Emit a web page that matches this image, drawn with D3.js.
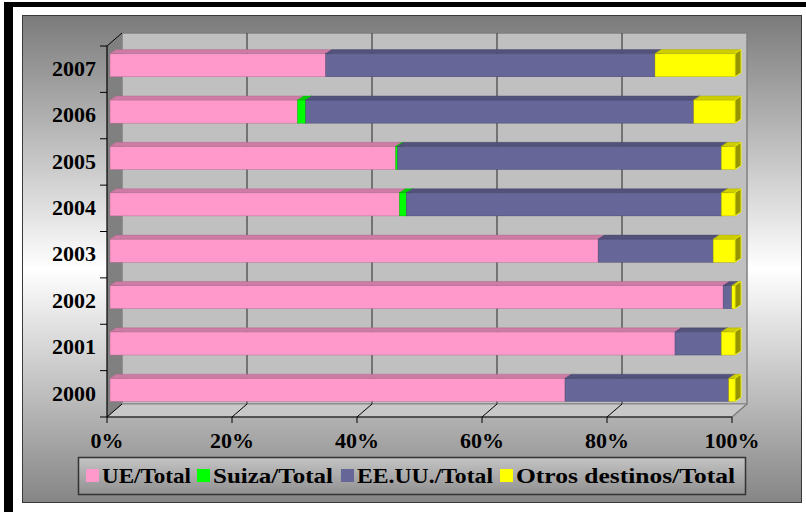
<!DOCTYPE html>
<html><head><meta charset="utf-8">
<script src="https://cdn.jsdelivr.net/npm/d3@7"></script>
<style>body{margin:0;background:#fff}svg{display:block}</style>
</head><body><svg id="c" width="806" height="512"></svg>
<script>
// ---- data ----
const years = ["2000","2001","2002","2003","2004","2005","2006","2007"];
const ueTotal     = [72.8, 90.4, 98.1, 78.1, 46.3, 45.7, 30.0, 34.5];
const suizaTotal  = [0.0,  0.0,  0.0,  0.0,  1.1,  0.3,  1.3,  0.0];
const eeuuTotal   = [26.2, 7.4,  1.4,  18.4, 50.4, 51.8, 62.1, 52.7];
const otrosTotal  = [1.0,  2.2,  0.5,  3.5,  2.2,  2.2,  6.6,  12.8];
const seriesNames = ["UE/Total","Suiza/Total","EE.UU./Total","Otros destinos/Total"];
const seriesColors = ["#FF99CC","#00FF00","#666699","#FFFF00"];
const xTickValues = [0,20,40,60,80,100];
const xTickLabels = ["0%","20%","40%","60%","80%","100%"];

const svg = d3.select("#c");
const defs = svg.append("defs");
const FONT = "'Liberation Serif','Times New Roman',serif";

// panel gradient
const g1 = defs.append("linearGradient").attr("id","panelGrad").attr("x1",0).attr("y1",0).attr("x2",0).attr("y2",1);
g1.append("stop").attr("offset","0%").attr("stop-color","#7b7b7b");
g1.append("stop").attr("offset","52%").attr("stop-color","#ffffff");
g1.append("stop").attr("offset","100%").attr("stop-color","#858585");
const g2 = defs.append("linearGradient").attr("id","legGrad").attr("x1",0).attr("y1",0).attr("x2",0).attr("y2",1);
g2.append("stop").attr("offset","0%").attr("stop-color","#c4c4c4");
g2.append("stop").attr("offset","100%").attr("stop-color","#909090");

// outer frame
svg.append("rect").attr("x",0).attr("y",0).attr("width",806).attr("height",512).attr("fill","#fff");
svg.append("rect").attr("x",4).attr("y",2).attr("width",802).attr("height",5).attr("fill","#000");
svg.append("rect").attr("x",4).attr("y",2).attr("width",9).attr("height",510).attr("fill","#000");

// panel
svg.append("rect").attr("x",22.5).attr("y",15.5).attr("width",779).attr("height",487)
  .attr("fill","url(#panelGrad)").attr("stroke","#3a3a3a").attr("stroke-width",1);

// ---- plot geometry ----
const X0=107, X1=732, Y0=46, Y1=417, DX=15, DY=-13;
const x = d3.scaleLinear().domain([0,100]).range([X0,X1]);
const y = d3.scaleBand().domain(years.slice().reverse()).range([Y0,Y1]).paddingInner(0.5).paddingOuter(0.25);
const step = y.step();

const pts = a => a.map(p=>p.join(",")).join(" ");
// back wall
svg.append("polygon").attr("points",pts([[X0+DX,Y0+DY],[X1+DX,Y0+DY],[X1+DX,Y1+DY],[X0+DX,Y1+DY]]))
  .attr("fill","#c0c0c0").attr("stroke","#808080").attr("stroke-width",1.5);
// left wall
svg.append("polygon").attr("points",pts([[X0,Y0],[X0+DX,Y0+DY],[X0+DX,Y1+DY],[X0,Y1]]))
  .attr("fill","#808080");
// floor
svg.append("polygon").attr("points",pts([[X0,Y1],[X0+DX,Y1+DY],[X1+DX,Y1+DY],[X1,Y1]]))
  .attr("fill","#c8c8c8").attr("stroke","#8a8a8a").attr("stroke-width",1);
// gridlines on back wall
svg.append("g").selectAll("line").data(xTickValues.slice(1,-1)).join("line")
  .attr("x1",d=>x(d)+DX).attr("x2",d=>x(d)+DX).attr("y1",Y0+DY).attr("y2",Y1+DY)
  .attr("stroke","#4a4a4a").attr("stroke-width",1.3);
// floor diagonals
svg.append("g").selectAll("line").data(xTickValues.slice(0,-1)).join("line")
  .attr("x1",d=>x(d)).attr("x2",d=>x(d)+DX).attr("y1",Y1).attr("y2",Y1+DY)
  .attr("stroke","#000").attr("stroke-width",1);
svg.append("line").attr("x1",X1).attr("x2",X1+DX).attr("y1",Y1).attr("y2",Y1+DY)
  .attr("stroke","#808080").attr("stroke-width",1.5);
// top-left diagonal
svg.append("line").attr("x1",X0).attr("y1",Y0).attr("x2",X0+DX).attr("y2",Y0+DY)
  .attr("stroke","#000").attr("stroke-width",1);

// ---- bars ----
const BX=3, BY=-4, BDX=6, BDY=-4;
const series = [ueTotal,suizaTotal,eeuuTotal,otrosTotal];
const barsG = svg.append("g");
years.slice().reverse().forEach(yr=>{
  const i = years.indexOf(yr);
  let cum = 0;
  const top = y(yr)+BY, bot = top + y.bandwidth();
  series.forEach((s,k)=>{
    const v = s[i];
    if (v<=0) return;
    const xa = x(cum)+BX, xb = x(cum+v)+BX;
    cum += v;
    const c = d3.color(seriesColors[k]);
    const edge = c.darker(1.2).formatHex();
    // front
    barsG.append("rect").attr("x",xa).attr("y",top).attr("width",xb-xa).attr("height",bot-top)
      .attr("fill",c.formatHex()).attr("stroke",edge).attr("stroke-width",0.4);
    // top
    barsG.append("polygon").attr("points",pts([[xa,top],[xa+BDX,top+BDY],[xb+BDX,top+BDY],[xb,top]]))
      .attr("fill",c.darker(0.6).formatHex()).attr("stroke",edge).attr("stroke-width",0.4);
    // side
    barsG.append("polygon").attr("points",pts([[xb,top],[xb+BDX,top+BDY],[xb+BDX,bot+BDY],[xb,bot]]))
      .attr("fill",c.darker(1.5).formatHex()).attr("stroke",c.formatHex()).attr("stroke-width",0.8);
  });
});

// ---- axes ----
const ax = svg.append("g");
ax.append("line").attr("x1",X0).attr("x2",X0).attr("y1",Y0).attr("y2",Y1).attr("stroke","#000").attr("stroke-width",1.2);
ax.append("line").attr("x1",X0).attr("x2",X1).attr("y1",Y1).attr("y2",Y1).attr("stroke","#000").attr("stroke-width",1.2);
ax.selectAll(".yt").data(d3.range(0,9)).join("line")
  .attr("x1",X0-7).attr("x2",X0).attr("y1",i=>Y0+i*step).attr("y2",i=>Y0+i*step)
  .attr("stroke","#000").attr("stroke-width",1);
ax.selectAll(".xt").data(xTickValues).join("line")
  .attr("x1",d=>x(d)).attr("x2",d=>x(d)).attr("y1",Y1).attr("y2",Y1+6)
  .attr("stroke","#000").attr("stroke-width",1);
ax.selectAll(".yl").data(years).join("text")
  .attr("x",96).attr("y",d=>y(d)+y.bandwidth()/2-1).attr("dy","0.35em")
  .attr("text-anchor","end").attr("font-family",FONT).attr("font-weight","bold").attr("font-size",22)
  .attr("fill","#000").text(d=>d);
ax.selectAll(".xl").data(xTickValues).join("text")
  .attr("x",d=>x(d)).attr("y",448)
  .attr("text-anchor","middle").attr("font-family",FONT).attr("font-weight","bold").attr("font-size",22)
  .attr("fill","#000").text((d,i)=>xTickLabels[i]);

// ---- legend ----
svg.append("rect").attr("x",78.5).attr("y",457.5).attr("width",667).attr("height",37)
  .attr("fill","url(#legGrad)").attr("stroke","#333").attr("stroke-width",1.5);
const legX = [86,197,341,500];
const legW = [89,120,136,219];
const lg = svg.append("g");
seriesNames.forEach((n,k)=>{
  lg.append("rect").attr("x",legX[k]).attr("y",469).attr("width",13).attr("height",13)
    .attr("fill",seriesColors[k]);
  lg.append("text").attr("x",legX[k]+16).attr("y",483)
    .attr("font-family",FONT).attr("font-weight","bold").attr("font-size",21)
    .attr("textLength",legW[k]).attr("lengthAdjust","spacingAndGlyphs")
    .attr("fill","#000").text(n);
});
</script></body></html>
